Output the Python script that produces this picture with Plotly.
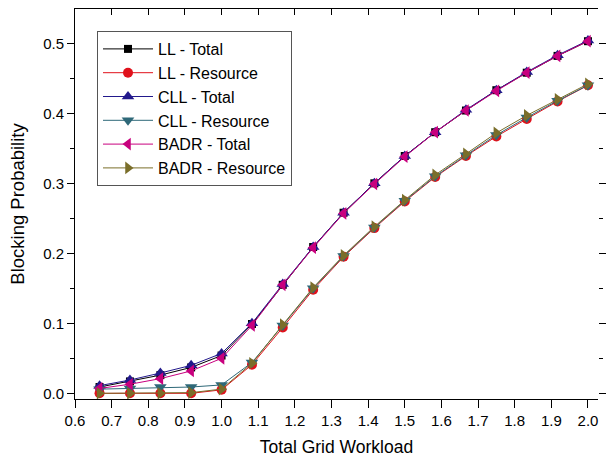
import plotly.graph_objects as go

workload = [0.667, 0.75, 0.833, 0.917, 1.0, 1.083, 1.167, 1.25, 1.333, 1.417,
            1.5, 1.583, 1.667, 1.75, 1.833, 1.917, 2.0]

ll_total = [0.009, 0.017, 0.026, 0.037, 0.054, 0.099, 0.155, 0.209, 0.258, 0.300,
            0.339, 0.373, 0.404, 0.433, 0.458, 0.482, 0.503]
ll_resource = [0.000, 0.000, 0.000, 0.000, 0.005, 0.041, 0.094, 0.148, 0.195, 0.236,
               0.274, 0.309, 0.339, 0.367, 0.392, 0.417, 0.440]
cll_total = [0.011, 0.019, 0.029, 0.040, 0.057, 0.100, 0.156, 0.209, 0.258, 0.300,
             0.339, 0.373, 0.405, 0.433, 0.459, 0.483, 0.504]
cll_resource = [0.006, 0.007, 0.009, 0.009, 0.012, 0.044, 0.097, 0.150, 0.196, 0.237,
                0.275, 0.310, 0.340, 0.369, 0.394, 0.418, 0.440]
badr_total = [0.007, 0.013, 0.021, 0.032, 0.050, 0.097, 0.155, 0.208, 0.257, 0.299,
              0.338, 0.373, 0.404, 0.432, 0.458, 0.482, 0.503]
badr_resource = [0.000, 0.000, 0.000, 0.001, 0.006, 0.043, 0.098, 0.151, 0.197, 0.238,
                 0.276, 0.312, 0.342, 0.372, 0.397, 0.420, 0.442]

series_names = ["LL - Total", "LL - Resource", "CLL - Total", "CLL - Resource",
                "BADR - Total", "BADR - Resource"]
series_values = [ll_total, ll_resource, cll_total, cll_resource, badr_total, badr_resource]
series_colors = ["#000000", "#e0111b", "#22198c", "#2e6878", "#c8007e", "#7a6e2a"]
series_symbols = ["square", "circle", "triangle-up", "triangle-down", "triangle-left", "triangle-right"]
series_sizes = [8, 10, 11, 11, 11, 11]

x_ticks = [0.6, 0.7, 0.8, 0.9, 1.0, 1.1, 1.2, 1.3, 1.4, 1.5, 1.6, 1.7, 1.8, 1.9, 2.0]
x_tick_labels = ["0.6", "0.7", "0.8", "0.9", "1.0", "1.1", "1.2", "1.3", "1.4", "1.5",
                 "1.6", "1.7", "1.8", "1.9", "2.0"]

FONT = "Liberation Sans, Arial, sans-serif"
X_RANGE = [0.6, 2.0274]
Y_RANGE = [-0.0081, 0.549]

fig = go.Figure()
for name, vals, col, sym, sz in zip(series_names, series_values, series_colors,
                                     series_symbols, series_sizes):
    fig.add_trace(go.Scatter(
        x=workload, y=vals, name=name, mode="lines+markers",
        line=dict(color=col, width=1),
        marker=dict(symbol=sym, size=sz, color=col, line=dict(width=0)),
    ))

# helper trace for the mirrored (top / right) tick axes
fig.add_trace(go.Scatter(x=[1.0], y=[0.2], xaxis="x2", yaxis="y2", mode="markers",
                         marker=dict(opacity=0), showlegend=False, hoverinfo="skip"))

fig.update_layout(
    width=606, height=462,
    margin=dict(l=75, r=8, t=9, b=63, autoexpand=False),
    paper_bgcolor="white", plot_bgcolor="white",
    font=dict(family=FONT, color="#000000"),
    legend=dict(
        x=(97 - 75) / 523, y=(399 - 31) / 390, xanchor="left", yanchor="top",
        bgcolor="white", bordercolor="#555555", borderwidth=1,
        font=dict(family=FONT, size=16, color="#000000"),
        tracegroupgap=0, itemwidth=50,
    ),
    xaxis=dict(
        range=X_RANGE, tickmode="array", tickvals=x_ticks, ticktext=x_tick_labels,
        ticks="outside", ticklen=8, tickwidth=1, tickcolor="#000000",
        showline=True, linecolor="#000000", linewidth=1, mirror=True,
        showgrid=False, zeroline=False, automargin=False,
        tickfont=dict(size=15),
        title=dict(text="Total Grid Workload", font=dict(size=17.5), standoff=12),
    ),
    yaxis=dict(
        range=Y_RANGE, tick0=0, dtick=0.1, tickformat=".1f",
        ticks="outside", ticklen=7, tickwidth=1, tickcolor="#000000",
        minor=dict(ticks="outside", ticklen=4, tick0=0, dtick=0.05, tickcolor="#000000"),
        showline=True, linecolor="#000000", linewidth=1, mirror=False,
        showgrid=False, zeroline=False, automargin=False,
        tickfont=dict(size=15),
        title=dict(text="Blocking Probability", font=dict(size=18.5), standoff=13),
    ),
    xaxis2=dict(
        overlaying="x", side="top", anchor="y", range=X_RANGE,
        tickmode="array", tickvals=x_ticks, showticklabels=False,
        ticks="inside", ticklen=6, tickwidth=1, tickcolor="#000000",
        showline=False, showgrid=False, zeroline=False, automargin=False,
    ),
    yaxis2=dict(
        overlaying="y", side="right", anchor="x", range=Y_RANGE,
        tick0=0, dtick=0.1, showticklabels=False,
        ticks="outside", ticklen=8, tickwidth=1, tickcolor="#000000",
        minor=dict(ticks="outside", ticklen=4, tick0=0, dtick=0.05, tickcolor="#000000"),
        showline=False, showgrid=False, zeroline=False, automargin=False,
    ),
)

fig.write_html("out.html")
